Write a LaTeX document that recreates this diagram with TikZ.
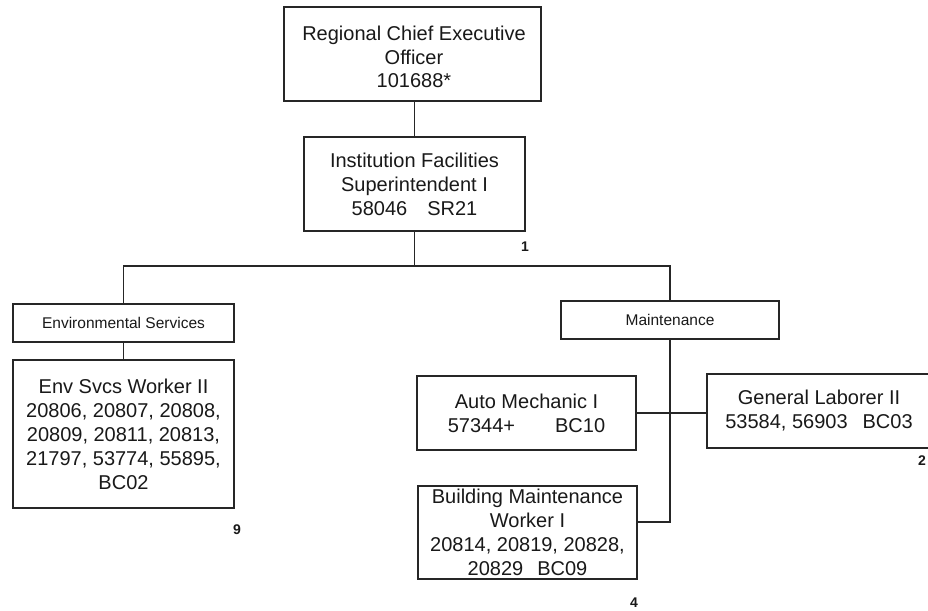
\documentclass[tikz,border=0pt]{standalone}
\usepackage{fontspec}
\setmainfont{Liberation Sans}
\begin{document}
\begin{tikzpicture}[x=1pt,y=-1pt,
  box/.style={draw=black!85, line width=1.3pt, inner sep=0pt, align=center,
    font=\fontsize{20}{24}\selectfont, text=black!90},
  small/.style={draw=black!85, line width=1.3pt, inner sep=0pt, align=center,
    font=\fontsize{15.5}{18}\selectfont, text=black!90},
  conn/.style={draw=black!85, line width=1.3pt},
  cnt/.style={inner sep=0pt, font=\fontsize{14}{16}\selectfont\bfseries, text=black!90}]
\useasboundingbox (0,0) rectangle (928,610);
\fill[white] (0,0) rectangle (928,610);
% nodes
\node[box, minimum width=257pt, minimum height=94pt] (ceo) at (412.5,54) {};
\node[inner sep=0pt, align=center, font=\fontsize{20}{23.5}\selectfont, text=black!90] (ceot) at (414,57) {Regional Chief Executive\\Officer\\101688*};
\node[box, minimum width=221pt, minimum height=94pt] (ifs) at (414.5,184) {Institution Facilities\\Superintendent I\\58046\hspace{20pt}SR21};
\node[small, minimum width=221pt, minimum height=38pt] (envs) at (123.5,323) {Environmental Services};
\node[box, minimum width=221pt, minimum height=148pt] (envw) at (123.5,434) {Env Svcs Worker II\\20806, 20807, 20808,\\20809, 20811, 20813,\\21797, 53774, 55895,\\BC02};
\node[small, minimum width=218pt, minimum height=38pt] (maint) at (670,320) {Maintenance};
\node[box, minimum width=219pt, minimum height=74pt] (auto) at (526.5,413) {Auto Mechanic I\\57344+\hspace{40pt}BC10};
\node[box, minimum width=224pt, minimum height=74pt] (gen) at (819,411) {General Laborer II\\53584, 56903\hspace{15pt}BC03};
\node[box, minimum width=219pt, minimum height=93pt] (bldg) at (527.5,532.5) {Building Maintenance\\Worker I\\20814, 20819, 20828,\\20829\hspace{14pt}BC09};
% counts
\node[cnt] (c1) at (525,247) {1};
\node[cnt] (c9) at (237,530) {9};
\node[cnt] (c4) at (634,603) {4};
\node[cnt] (c2) at (922,461) {2};
% connectors
\coordinate (bus) at (416,266);
\coordinate (mj) at (670,522);
\draw[conn] (ifs.north) -- (ifs.north |- ceo.south);
\draw[conn] (ifs.south) -- (ifs.south |- bus);
\draw[conn] (envs.north) -- (envs.north |- bus) -- (maint.north |- bus) -- (maint.north);
\draw[conn] (envs.south) -- (envw.north);
\draw[conn] (maint.south) -- (mj) -- (mj -| bldg.east);
\draw[conn] (auto.east) -- (auto.east -| gen.west);
\end{tikzpicture}
\end{document}
